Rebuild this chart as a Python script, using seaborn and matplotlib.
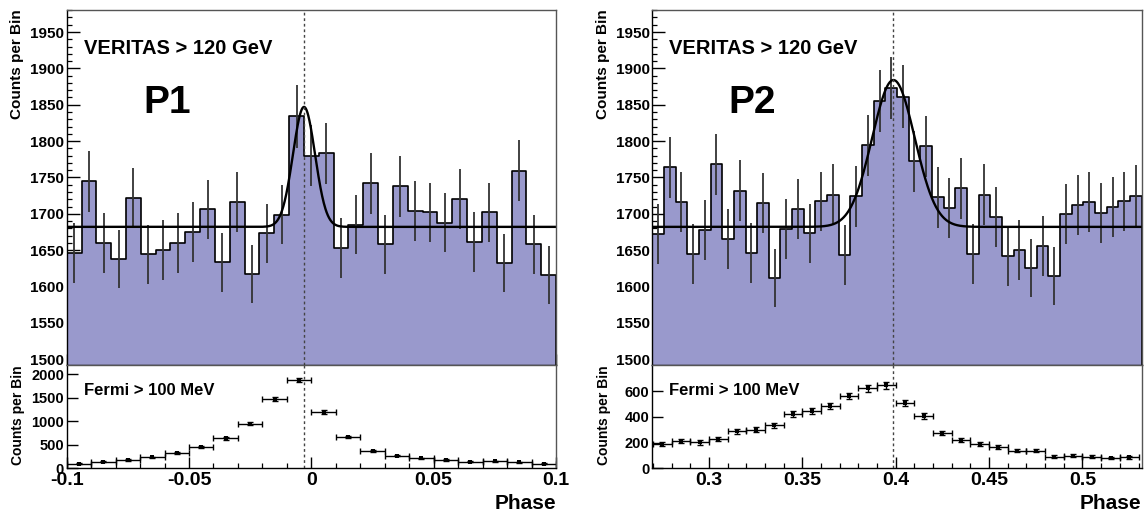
import numpy as np
import pandas as pd
import matplotlib
matplotlib.use("Agg")
import matplotlib.pyplot as plt
import seaborn as sns
from matplotlib.ticker import MultipleLocator, FixedLocator, FormatStrFormatter

sns.set_theme(style="ticks")
plt.rcParams['font.family'] = ['Liberation Sans', 'DejaVu Sans']
plt.rcParams['font.weight'] = 'bold'
plt.rcParams['axes.labelweight'] = 'bold'
plt.rcParams['text.color'] = 'black'
plt.rcParams['axes.labelcolor'] = 'black'
plt.rcParams['xtick.color'] = 'black'
plt.rcParams['ytick.color'] = 'black'
plt.rcParams['axes.unicode_minus'] = False

# ---------------- data ----------------
p1_xlim = (-0.1, 0.1)
p2_xlim = (0.2697, 0.5317)

p1_veritas_counts = [1646, 1745, 1660, 1638, 1722, 1644, 1650, 1660, 1675, 1706,
                     1633, 1716, 1617, 1673, 1699, 1834, 1780, 1783, 1653, 1685,
                     1742, 1658, 1738, 1704, 1702, 1688, 1720, 1661, 1702, 1632,
                     1759, 1658, 1616]
p1_veritas_err = [41, 42, 41, 40, 41, 41, 41, 41, 41, 41,
                  40, 41, 40, 41, 41, 43, 42, 42, 41, 41,
                  42, 41, 42, 41, 41, 41, 41, 41, 41, 40,
                  42, 41, 40]

p2_veritas_counts = [1672, 1764, 1716, 1645, 1678, 1768, 1665, 1732, 1646, 1715,
                     1612, 1679, 1707, 1673, 1717, 1726, 1643, 1724, 1794, 1855,
                     1873, 1861, 1772, 1793, 1723, 1708, 1735, 1645, 1726, 1696,
                     1642, 1650, 1626, 1656, 1615, 1700, 1712, 1716, 1701, 1709,
                     1717, 1725]
p2_veritas_err = [41, 42, 41, 41, 41, 42, 41, 42, 41, 41,
                  40, 41, 41, 41, 41, 42, 41, 42, 42, 43,
                  43, 43, 42, 42, 42, 41, 42, 41, 42, 41,
                  41, 41, 40, 41, 40, 41, 41, 41, 41, 41,
                  41, 42]

# fit parameters (constant + gaussian)
p1_fit = dict(base=1682, amp=165, mu=-0.0030, sigma=0.0045)
p2_fit = dict(base=1682, amp=202, mu=0.3988, sigma=0.0114)

p1_fermi_phase = [-0.095, -0.085, -0.075, -0.065, -0.055, -0.045, -0.035, -0.025, -0.015, -0.005,
                  0.005, 0.015, 0.025, 0.035, 0.045, 0.055, 0.065, 0.075, 0.085, 0.095]
p1_fermi_counts = [100, 143, 179, 236, 321, 450, 636, 950, 1479, 1879,
                   1200, 664, 371, 271, 214, 179, 143, 150, 129, 100]
p1_fermi_err = [10, 12, 13, 15, 18, 21, 25, 31, 38, 43,
                35, 26, 19, 16, 15, 13, 12, 12, 11, 10]

p2_fermi_phase = [0.275, 0.285, 0.295, 0.305, 0.315, 0.325, 0.335, 0.345, 0.355, 0.365,
                  0.375, 0.385, 0.395, 0.405, 0.415, 0.425, 0.435, 0.445, 0.455, 0.465,
                  0.475, 0.485, 0.495, 0.505, 0.515, 0.525]
p2_fermi_counts = [188, 211, 201, 230, 287, 300, 334, 425, 444, 483,
                   561, 621, 644, 509, 404, 274, 222, 188, 164, 136,
                   136, 91, 97, 91, 81, 86]
p2_fermi_err = [16, 17, 16, 17, 19, 19, 20, 23, 23, 24,
                26, 27, 27, 24, 22, 19, 17, 16, 15, 13,
                13, 11, 11, 11, 10, 11]

p1_fermi_yticks = [0, 500, 1000, 1500, 2000]
p2_fermi_yticks = [0, 200, 400, 600]

p1_marker = -0.0030
p2_marker = 0.3986

FILL = '#9999cc'

W, H = 1146, 513
fig = plt.figure(figsize=(W / 100, H / 100), dpi=100)


def frac_axes(x0, x1, y0, y1):
    return fig.add_axes([x0 / W, 1 - y1 / H, (x1 - x0) / W, (y1 - y0) / H])


def style_axes(ax):
    ax.tick_params(which='both', direction='in', top=False, right=False, colors='black',
                   pad=2)
    ax.tick_params(which='major', length=8, width=1.0)
    ax.tick_params(which='minor', length=3.8, width=0.9)
    for s in ax.spines.values():
        s.set_visible(True)
        s.set_color('black')
        s.set_linewidth(1.0)
    ax.spines['top'].set_color('#555555')
    ax.spines['right'].set_color('#555555')
    ax.grid(False)


def top_panel(ax, xlim, counts, errs, fit, marker, title_tag):
    n = len(counts)
    edges = np.linspace(xlim[0], xlim[1], n + 1)
    centers = 0.5 * (edges[:-1] + edges[1:])
    df = pd.DataFrame({'phase': centers, 'counts': counts})
    sns.histplot(data=df, x='phase', weights='counts', bins=list(edges), element='step',
                 fill=True, facecolor=FILL, edgecolor='black', linewidth=1.2,
                 alpha=1, ax=ax)
    ax.errorbar(centers, counts, yerr=errs, fmt='none', ecolor='#333333', elinewidth=1.3)
    xs = np.linspace(xlim[0], xlim[1], 1200)
    ys = fit['base'] + fit['amp'] * np.exp(-0.5 * ((xs - fit['mu']) / fit['sigma']) ** 2)
    sns.lineplot(x=xs, y=ys, color='black', linewidth=1.7, ax=ax)
    ax.axvline(marker, color='#444444', linestyle=(0, (2, 2)), linewidth=1.0)
    ax.set_xlim(*xlim)
    ax.set_ylim(1492, 1981)
    ax.xaxis.set_major_locator(MultipleLocator(0.05))
    ax.xaxis.set_minor_locator(MultipleLocator(0.01))
    ax.yaxis.set_major_locator(MultipleLocator(50))
    ax.yaxis.set_minor_locator(MultipleLocator(10))
    ax.yaxis.set_major_formatter(FormatStrFormatter('%g'))
    style_axes(ax)
    ax.tick_params(axis='x', which='both', labelbottom=False)
    ax.tick_params(axis='y', which='major', length=9.5, labelsize=11)
    for t in ax.get_yticklabels():
        t.set_fontweight('bold')
    ax.set_xlabel('')
    ax.set_ylabel('Counts per Bin', fontsize=11, fontweight='bold', loc='top',
                  color='black')
    ax.yaxis.set_label_coords(-0.087, 1.0)
    ax.text(0.035, 0.875, 'VERITAS > 120 GeV', transform=ax.transAxes,
            fontsize=14.5, fontweight='bold', ha='left', va='baseline', color='black')
    ax.text(0.156, 0.71, title_tag, transform=ax.transAxes,
            fontsize=28, fontweight='bold', ha='left', va='baseline', color='black')


def bottom_panel(ax, xlim, ylim, yticks, phase, counts, errs, marker):
    sns.scatterplot(x=phase, y=counts, marker='s', s=8, color='black',
                    linewidth=0, ax=ax, zorder=3)
    ax.errorbar(phase, counts, xerr=0.005, yerr=errs, fmt='none', ecolor='black',
                elinewidth=1.0, capsize=2.2, capthick=1.0)
    ax.axvline(marker, color='#444444', linestyle=(0, (2, 2)), linewidth=1.0)
    ax.set_xlim(*xlim)
    ax.set_ylim(*ylim)
    ax.xaxis.set_major_locator(MultipleLocator(0.05))
    ax.xaxis.set_minor_locator(MultipleLocator(0.01))
    ax.xaxis.set_major_formatter(FormatStrFormatter('%g'))
    ax.yaxis.set_major_locator(FixedLocator(yticks))
    ax.yaxis.set_major_formatter(FormatStrFormatter('%g'))
    style_axes(ax)
    ax.tick_params(axis='x', which='major', labelsize=14, pad=3)
    ax.tick_params(axis='y', which='major', labelsize=10.5, pad=2)
    for t in ax.get_xticklabels() + ax.get_yticklabels():
        t.set_fontweight('bold')
    ax.set_xlabel('Phase', fontsize=15, fontweight='bold', loc='right', labelpad=3,
                  color='black')
    ax.set_ylabel('Counts per Bin', fontsize=10, fontweight='bold', loc='top',
                  color='black')
    ax.yaxis.set_label_coords(-0.085, 1.0)
    ax.text(0.035, 0.71, 'Fermi > 100 MeV', transform=ax.transAxes,
            fontsize=12, fontweight='bold', ha='left', va='baseline', color='black')


ax1t = frac_axes(66.7, 556.0, 9.5, 365.0)
ax1b = frac_axes(66.7, 556.0, 365.0, 468.3)
ax2t = frac_axes(652.3, 1141.7, 9.5, 365.0)
ax2b = frac_axes(652.3, 1141.7, 365.0, 468.3)

top_panel(ax1t, p1_xlim, p1_veritas_counts, p1_veritas_err, p1_fit, p1_marker, 'P1')
top_panel(ax2t, p2_xlim, p2_veritas_counts, p2_veritas_err, p2_fit, p2_marker, 'P2')
bottom_panel(ax1b, p1_xlim, (0, 2200), p1_fermi_yticks, p1_fermi_phase, p1_fermi_counts,
             p1_fermi_err, p1_marker)
bottom_panel(ax2b, p2_xlim, (0, 803), p2_fermi_yticks, p2_fermi_phase, p2_fermi_counts,
             p2_fermi_err, p2_marker)

fig.savefig('out.png', dpi=100)
